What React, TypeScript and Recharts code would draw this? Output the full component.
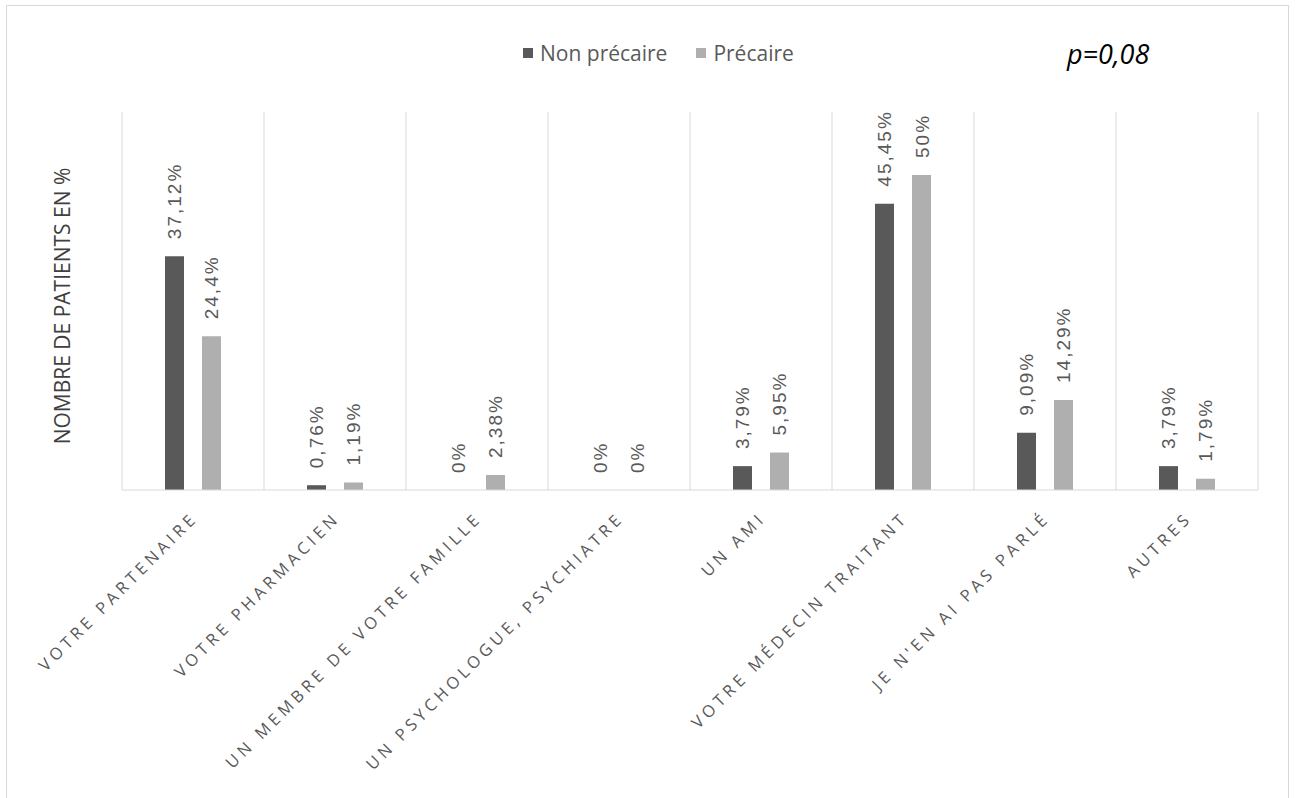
import { Bar, BarChart, CartesianGrid, LabelList, XAxis, YAxis } from "recharts";

const categories = [
  "VOTRE PARTENAIRE",
  "VOTRE PHARMACIEN",
  "UN MEMBRE DE VOTRE FAMILLE",
  "UN PSYCHOLOGUE, PSYCHIATRE",
  "UN AMI",
  "VOTRE MÉDECIN TRAITANT",
  "JE N'EN AI PAS PARLÉ",
  "AUTRES",
];
const nonPrecaire = [37.12, 0.76, 0, 0, 3.79, 45.45, 9.09, 3.79];
const precaire = [24.4, 1.19, 2.38, 0, 5.95, 50, 14.29, 1.79];

const DARK = "#595959";
const LIGHT = "#afafaf";
const GRID = "#d9d9d9";
const TEXT = "#595959";

const rows = categories.map((name, i) => ({
  name,
  nonPrecaire: nonPrecaire[i],
  precaire: precaire[i],
}));

const fmt = (v: number) => `${String(v).replace(".", ",")}%`;

// value written upward, starting a little above the bar top
const VerticalLabel = (props: any) => {
  const { x, y, width, height, value } = props;
  const top = Math.min(y, y + height);
  const cx = x + width / 2 + 7;
  const cy = top - 17;
  return (
    <text
      x={cx}
      y={cy}
      transform={`rotate(-90 ${cx} ${cy})`}
      textAnchor="start"
      fontFamily="Liberation Sans, Arial, sans-serif"
      fontSize={19}
      letterSpacing={2}
      fill={TEXT}
    >
      {fmt(value)}
    </text>
  );
};

const SlantedTick = (props: any) => {
  const { x, y, payload } = props;
  const ax = x + 6;
  const ay = y + 21;
  return (
    <text
      x={ax}
      y={ay}
      transform={`rotate(-45 ${ax} ${ay})`}
      textAnchor="end"
      fontFamily="Open Sans, sans-serif"
      fontSize={16.5}
      letterSpacing={4.1}
      fill={TEXT}
    >
      {payload.value}
    </text>
  );
};

// zero values still get their label, so give them a hairline height
const zeroPoint = (value: number) => (value === 0 ? 0.01 : 0);

export default function App() {
  return (
    <div style={{ position: "absolute", left: 0, top: 0, width: 1298, height: 798, background: "#fff", overflow: "hidden" }}>
      <div
        style={{
          position: "absolute",
          left: 6,
          top: 5,
          width: 1283,
          height: 820,
          border: `1px solid ${GRID}`,
          boxSizing: "border-box",
        }}
      />
      <BarChart
        width={1298}
        height={798}
        data={rows}
        margin={{ top: 112, right: 40, left: 122, bottom: 8 }}
        barSize={19}
        barGap={18}
      >
        <CartesianGrid
          horizontal={false}
          stroke={GRID}
          verticalCoordinatesGenerator={({ offset }: any) =>
            Array.from({ length: categories.length + 1 }, (_, i) => offset.left + (i * offset.width) / categories.length)
          }
        />
        <XAxis
          dataKey="name"
          height={300}
          interval={0}
          axisLine={{ stroke: GRID }}
          tickLine={false}
          tick={<SlantedTick />}
        />
        <YAxis hide domain={[0, 60]} />
        <Bar dataKey="nonPrecaire" name="Non précaire" fill={DARK} minPointSize={zeroPoint} isAnimationActive={false}>
          <LabelList dataKey="nonPrecaire" content={<VerticalLabel />} />
        </Bar>
        <Bar dataKey="precaire" name="Précaire" fill={LIGHT} minPointSize={zeroPoint} isAnimationActive={false}>
          <LabelList dataKey="precaire" content={<VerticalLabel />} />
        </Bar>
      </BarChart>
      <div
        style={{
          position: "absolute",
          left: 523,
          top: 39,
          display: "flex",
          alignItems: "center",
          fontFamily: "Open Sans, sans-serif",
          fontSize: 21,
          color: TEXT,
          whiteSpace: "nowrap",
        }}
      >
        <span style={{ width: 10, height: 10, background: DARK, marginRight: 7 }} />
        <span style={{ marginRight: 29 }}>Non précaire</span>
        <span style={{ width: 10, height: 10, background: LIGHT, marginRight: 7 }} />
        <span>Précaire</span>
      </div>
      <div
        style={{
          position: "absolute",
          left: 62,
          top: 306,
          transform: "translate(-50%, -50%) rotate(-90deg)",
          whiteSpace: "nowrap",
          fontFamily: "Open Sans, sans-serif",
          fontSize: 21,
          color: "#404040",
        }}
      >
        NOMBRE DE PATIENTS EN %
      </div>
      <div
        style={{
          position: "absolute",
          left: 1067,
          top: 35,
          fontFamily: "Open Sans, sans-serif",
          fontStyle: "italic",
          fontWeight: 500,
          fontSize: 27,
          color: "#000",
          whiteSpace: "nowrap",
        }}
      >
        p=0,08
      </div>
    </div>
  );
}
